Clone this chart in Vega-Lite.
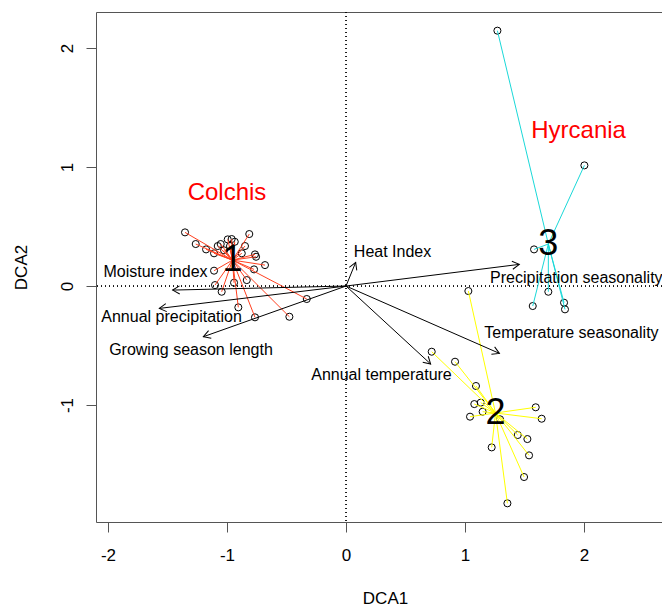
{
  "$schema": "https://vega.github.io/schema/vega-lite/v6.json",
  "width": 578,
  "height": 510,
  "autosize": {"type": "none"},
  "padding": {"left": 96, "top": 12, "right": 0, "bottom": 86},
  "background": "white",
  "config": {
    "view": {"stroke": "#555555", "strokeWidth": 1},
    "font": "Liberation Sans",
    "axis": {
      "labelFont": "Liberation Sans",
      "titleFont": "Liberation Sans",
      "labelFontSize": 17,
      "titleFontSize": 17,
      "titleFontWeight": "normal",
      "labelColor": "#000000",
      "titleColor": "#000000",
      "tickColor": "#555555",
      "tickSize": 10,
      "domain": false,
      "grid": false,
      "labelOverlap": false,
      "labelFlush": false,
      "labelExpr": "'' + datum.value"
    }
  },
  "datasets": {
    "sites": [
      {"group": "1", "x": -1.353, "y": 0.451},
      {"group": "1", "x": -1.263, "y": 0.353},
      {"group": "1", "x": -1.176, "y": 0.308},
      {"group": "1", "x": -1.109, "y": 0.275},
      {"group": "1", "x": -1.078, "y": 0.336},
      {"group": "1", "x": -1.053, "y": 0.353},
      {"group": "1", "x": -0.994, "y": 0.392},
      {"group": "1", "x": -0.961, "y": 0.395},
      {"group": "1", "x": -0.975, "y": 0.336},
      {"group": "1", "x": -0.813, "y": 0.437},
      {"group": "1", "x": -0.849, "y": 0.336},
      {"group": "1", "x": -0.876, "y": 0.275},
      {"group": "1", "x": -0.765, "y": 0.266},
      {"group": "1", "x": -0.756, "y": 0.246},
      {"group": "1", "x": -0.681, "y": 0.176},
      {"group": "1", "x": -0.773, "y": 0.140},
      {"group": "1", "x": -1.109, "y": 0.129},
      {"group": "1", "x": -1.101, "y": 0.008},
      {"group": "1", "x": -0.941, "y": 0.028},
      {"group": "1", "x": -0.834, "y": 0.050},
      {"group": "1", "x": -1.045, "y": -0.048},
      {"group": "1", "x": -0.905, "y": -0.179},
      {"group": "1", "x": -0.765, "y": -0.263},
      {"group": "1", "x": -0.476, "y": -0.258},
      {"group": "1", "x": -0.330, "y": -0.109},
      {"group": "1", "x": -1.025, "y": 0.300},
      {"group": "1", "x": -0.935, "y": 0.372},
      {"group": "2", "x": 0.720, "y": -0.552},
      {"group": "2", "x": 0.916, "y": -0.636},
      {"group": "2", "x": 1.092, "y": -0.840},
      {"group": "2", "x": 1.078, "y": -0.992},
      {"group": "2", "x": 1.132, "y": -0.980},
      {"group": "2", "x": 1.148, "y": -1.056},
      {"group": "2", "x": 1.042, "y": -1.098},
      {"group": "2", "x": 1.594, "y": -1.019},
      {"group": "2", "x": 1.644, "y": -1.115},
      {"group": "2", "x": 1.443, "y": -1.252},
      {"group": "2", "x": 1.524, "y": -1.286},
      {"group": "2", "x": 1.224, "y": -1.356},
      {"group": "2", "x": 1.538, "y": -1.423},
      {"group": "2", "x": 1.496, "y": -1.605},
      {"group": "2", "x": 1.356, "y": -1.826},
      {"group": "2", "x": 1.028, "y": -0.042},
      {"group": "2", "x": 1.294, "y": -1.120},
      {"group": "3", "x": 1.272, "y": 2.146},
      {"group": "3", "x": 2.003, "y": 1.014},
      {"group": "3", "x": 1.580, "y": 0.308},
      {"group": "3", "x": 1.700, "y": -0.048},
      {"group": "3", "x": 1.569, "y": -0.168},
      {"group": "3", "x": 1.832, "y": -0.140},
      {"group": "3", "x": 1.840, "y": -0.196}
    ],
    "centroids": [
      {"group": "1", "x": -0.954, "y": 0.218},
      {"group": "2", "x": 1.256, "y": -1.067},
      {"group": "3", "x": 1.700, "y": 0.353}
    ],
    "arrows": [
      {"name": "Heat Index", "x": 0.081, "y": 0.199, "lx": 0.391, "ly": 0.288},
      {"name": "Precipitation seasonality", "x": 1.456, "y": 0.182, "lx": 1.935, "ly": 0.065},
      {"name": "Temperature seasonality", "x": 1.289, "y": -0.566, "lx": 1.894, "ly": -0.392},
      {"name": "Annual temperature", "x": 0.711, "y": -0.655, "lx": 0.298, "ly": -0.748},
      {"name": "Moisture index", "x": -1.457, "y": -0.034, "lx": -1.601, "ly": 0.115},
      {"name": "Annual precipitation", "x": -1.569, "y": -0.188, "lx": -1.466, "ly": -0.258},
      {"name": "Growing season length", "x": -1.199, "y": -0.426, "lx": -1.303, "ly": -0.538}
    ],
    "regions": [
      {"name": "Colchis", "x": -1.0, "y": 0.781},
      {"name": "Hyrcania", "x": 1.954, "y": 1.30}
    ]
  },
  "layer": [
    {
      "data": {"name": "centroids"},
      "mark": {"type": "rule", "strokeDash": [1, 3], "color": "black", "strokeWidth": 1},
      "encoding": {
        "x": {"datum": 0, "type": "quantitative",
          "scale": {"domain": [-2.101, 2.756], "nice": false, "zero": false},
          "axis": {"title": "DCA1", "values": [-2, -1, 0, 1, 2], "labelPadding": 15, "titlePadding": 27}}
      }
    },
    {
      "data": {"name": "centroids"},
      "mark": {"type": "rule", "strokeDash": [1, 3], "color": "black", "strokeWidth": 1},
      "encoding": {
        "y": {"datum": 0, "type": "quantitative",
          "scale": {"domain": [-1.983, 2.303], "nice": false, "zero": false},
          "axis": {"title": "DCA2", "values": [-1, 0, 1, 2], "labelAngle": -90, "labelAlign": "center", "labelBaseline": "alphabetic", "labelPadding": 14, "titlePadding": 28}}
      }
    },
    {
      "data": {"name": "sites"},
      "mark": {"type": "point", "shape": "circle", "filled": false, "color": "black", "strokeWidth": 1, "size": 50, "opacity": 1},
      "encoding": {
        "x": {"field": "x", "type": "quantitative", "scale": {"domain": [-2.101, 2.756], "nice": false, "zero": false},
          "axis": {"title": "DCA1", "values": [-2, -1, 0, 1, 2], "labelPadding": 15, "titlePadding": 27}},
        "y": {"field": "y", "type": "quantitative", "scale": {"domain": [-1.983, 2.303], "nice": false, "zero": false},
          "axis": {"title": "DCA2", "values": [-1, 0, 1, 2], "labelAngle": -90, "labelAlign": "center", "labelBaseline": "alphabetic", "labelPadding": 14, "titlePadding": 28}}
      }
    },
    {
      "data": {"name": "sites"},
      "transform": [
        {"lookup": "group", "from": {"data": {"name": "centroids"}, "key": "group", "fields": ["x", "y"]}, "as": ["cx", "cy"]}
      ],
      "mark": {"type": "rule", "strokeWidth": 1},
      "encoding": {
        "x": {"field": "x", "type": "quantitative", "scale": {"domain": [-2.101, 2.756], "nice": false, "zero": false},
          "axis": {"title": "DCA1", "values": [-2, -1, 0, 1, 2], "labelPadding": 15, "titlePadding": 27}},
        "y": {"field": "y", "type": "quantitative", "scale": {"domain": [-1.983, 2.303], "nice": false, "zero": false},
          "axis": {"title": "DCA2", "values": [-1, 0, 1, 2], "labelAngle": -90, "labelAlign": "center", "labelBaseline": "alphabetic", "labelPadding": 14, "titlePadding": 28}},
        "x2": {"field": "cx"},
        "y2": {"field": "cy"},
        "color": {"field": "group", "type": "nominal", "scale": {"domain": ["1", "2", "3"], "range": ["#ff4020", "#ffff00", "#1ad8d8"]}, "legend": null}
      }
    },
    {
      "data": {"name": "arrows"},
      "mark": {"type": "rule", "color": "black", "strokeWidth": 1},
      "encoding": {
        "x": {"field": "x", "type": "quantitative", "scale": {"domain": [-2.101, 2.756], "nice": false, "zero": false},
          "axis": {"title": "DCA1", "values": [-2, -1, 0, 1, 2], "labelPadding": 15, "titlePadding": 27}},
        "y": {"field": "y", "type": "quantitative", "scale": {"domain": [-1.983, 2.303], "nice": false, "zero": false},
          "axis": {"title": "DCA2", "values": [-1, 0, 1, 2], "labelAngle": -90, "labelAlign": "center", "labelBaseline": "alphabetic", "labelPadding": 14, "titlePadding": 28}},
        "x2": {"datum": 0},
        "y2": {"datum": 0}
      }
    },
    {
      "data": {"name": "arrows"},
      "transform": [{"calculate": "atan2(-datum.y, datum.x) * 180 / PI", "as": "ang"}],
      "mark": {"type": "point", "shape": "M-1,-0.577L0,0L-1,0.577", "filled": false, "color": "black", "strokeWidth": 1, "size": 196, "opacity": 1},
      "encoding": {
        "x": {"field": "x", "type": "quantitative", "scale": {"domain": [-2.101, 2.756], "nice": false, "zero": false},
          "axis": {"title": "DCA1", "values": [-2, -1, 0, 1, 2], "labelPadding": 15, "titlePadding": 27}},
        "y": {"field": "y", "type": "quantitative", "scale": {"domain": [-1.983, 2.303], "nice": false, "zero": false},
          "axis": {"title": "DCA2", "values": [-1, 0, 1, 2], "labelAngle": -90, "labelAlign": "center", "labelBaseline": "alphabetic", "labelPadding": 14, "titlePadding": 28}},
        "angle": {"field": "ang", "type": "quantitative", "scale": null}
      }
    },
    {
      "data": {"name": "arrows"},
      "mark": {"type": "text", "font": "Liberation Sans", "fontSize": 16, "color": "black", "align": "center", "baseline": "middle"},
      "encoding": {
        "x": {"field": "lx", "type": "quantitative", "scale": {"domain": [-2.101, 2.756], "nice": false, "zero": false},
          "axis": {"title": "DCA1", "values": [-2, -1, 0, 1, 2], "labelPadding": 15, "titlePadding": 27}},
        "y": {"field": "ly", "type": "quantitative", "scale": {"domain": [-1.983, 2.303], "nice": false, "zero": false},
          "axis": {"title": "DCA2", "values": [-1, 0, 1, 2], "labelAngle": -90, "labelAlign": "center", "labelBaseline": "alphabetic", "labelPadding": 14, "titlePadding": 28}},
        "text": {"field": "name"}
      }
    },
    {
      "data": {"name": "centroids"},
      "mark": {"type": "text", "font": "Liberation Sans", "fontSize": 36, "color": "black", "align": "center", "baseline": "middle"},
      "encoding": {
        "x": {"field": "x", "type": "quantitative", "scale": {"domain": [-2.101, 2.756], "nice": false, "zero": false},
          "axis": {"title": "DCA1", "values": [-2, -1, 0, 1, 2], "labelPadding": 15, "titlePadding": 27}},
        "y": {"field": "y", "type": "quantitative", "scale": {"domain": [-1.983, 2.303], "nice": false, "zero": false},
          "axis": {"title": "DCA2", "values": [-1, 0, 1, 2], "labelAngle": -90, "labelAlign": "center", "labelBaseline": "alphabetic", "labelPadding": 14, "titlePadding": 28}},
        "text": {"field": "group"}
      }
    },
    {
      "data": {"name": "regions"},
      "mark": {"type": "text", "font": "Liberation Sans", "fontSize": 24, "color": "#ff0000", "align": "center", "baseline": "middle"},
      "encoding": {
        "x": {"field": "x", "type": "quantitative", "scale": {"domain": [-2.101, 2.756], "nice": false, "zero": false},
          "axis": {"title": "DCA1", "values": [-2, -1, 0, 1, 2], "labelPadding": 15, "titlePadding": 27}},
        "y": {"field": "y", "type": "quantitative", "scale": {"domain": [-1.983, 2.303], "nice": false, "zero": false},
          "axis": {"title": "DCA2", "values": [-1, 0, 1, 2], "labelAngle": -90, "labelAlign": "center", "labelBaseline": "alphabetic", "labelPadding": 14, "titlePadding": 28}},
        "text": {"field": "name"}
      }
    }
  ]
}
